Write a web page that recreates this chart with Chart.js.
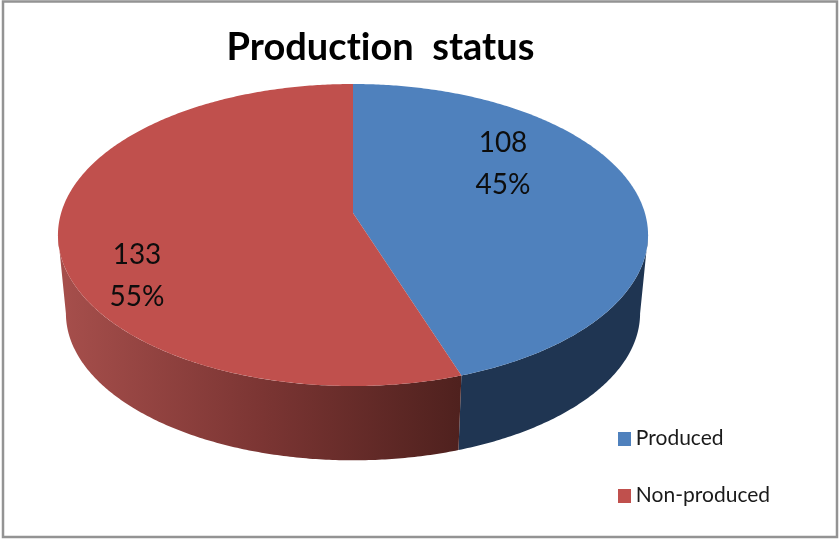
<!DOCTYPE html>
<html><head><meta charset="utf-8">
<script src="https://cdn.jsdelivr.net/npm/chart.js@4"></script>
<style>html,body{margin:0;padding:0;background:#fff}#w{position:relative;width:839px;height:542px}canvas{display:block}</style>
</head><body><div id="w"><canvas id="c" width="839" height="542"></canvas></div>
<script>
const titleText = 'Production  status';
const categories = ['Produced', 'Non-produced'];
const values = [108, 133];
const colors = ['#4f81bd', '#c0504d'];

// Perspective view of the disc: top face and bottom face of the cylinder
const view = { cx: 353, apexY: 213, a: 291.9, b: 147.8, k: 0.1457, depthScale: 0.973, bottomApexY: 292 };
const labelSpots = [{ x: 503, y: 164 }, { x: 137, y: 276 }];

function project(theta, bottom) {
  const u = Math.cos(theta), v = Math.sin(theta), d = 1 - view.k * v;
  const s = bottom ? view.depthScale : 1;
  return { x: view.cx + s * view.a * u / d, y: (bottom ? view.bottomApexY : view.apexY) + s * view.b * v / d };
}
function trace(ctx, from, to, bottom, first) {
  const n = Math.max(2, Math.ceil(Math.abs(to - from) / 0.01));
  for (let i = 0; i <= n; i++) {
    const p = project(from + (to - from) * i / n, bottom);
    if (i === 0 && first) ctx.moveTo(p.x, p.y); else ctx.lineTo(p.x, p.y);
  }
}
function swatch(color) {
  const c = document.createElement('canvas');
  c.width = 13; c.height = 14;
  const g = c.getContext('2d');
  g.fillStyle = color;
  g.fillRect(0, 0, 13, 14);
  return c;
}
const swatches = colors.map(swatch);

const pie3d = {
  id: 'pie3d',
  beforeDraw(chart) {
    const ctx = chart.ctx;
    ctx.save();
    ctx.fillStyle = '#ffffff';
    ctx.fillRect(0, 0, chart.width, chart.height);
    ctx.strokeStyle = '#939393';
    ctx.lineWidth = 2.5;
    ctx.strokeRect(3, 1.5, 834, 535.5);
    ctx.restore();
    ctx.letterSpacing = '0.01px'; // keeps "ti" as two letters
  },
  beforeDatasetDraw(chart) {
    const ctx = chart.ctx;
    const arcs = chart.getDatasetMeta(0).data;
    const tanLimit = Math.asin(view.k);
    ctx.save();
    // side wall
    const boundary = arcs[0].endAngle;
    const grad = ctx.createLinearGradient(66, 0, 460, 0);
    grad.addColorStop(0, '#a54e4b');
    grad.addColorStop(0.5, '#7b3533');
    grad.addColorStop(1, '#4f211e');
    const walls = [[tanLimit, boundary, '#1f3552'], [boundary, Math.PI - tanLimit, grad]];
    walls.forEach(([s, e, fill]) => {
      ctx.beginPath();
      trace(ctx, s, e, false, true);
      trace(ctx, e, s, true, false);
      ctx.closePath();
      ctx.fillStyle = fill;
      ctx.fill();
    });
    // top face, from the library's arc elements
    arcs.forEach((arc, i) => {
      ctx.beginPath();
      ctx.moveTo(view.cx, view.apexY);
      trace(ctx, arc.startAngle, arc.endAngle, false, false);
      ctx.closePath();
      ctx.fillStyle = arc.options.backgroundColor;
      ctx.fill();
    });
    // value labels
    const total = values.reduce((a, b) => a + b, 0);
    ctx.fillStyle = '#0d0d0d';
    ctx.font = '28px Lato';
    ctx.textAlign = 'center';
    ctx.textBaseline = 'middle';
    values.forEach((v, i) => {
      ctx.fillText(String(v), labelSpots[i].x, labelSpots[i].y - 21);
      ctx.fillText(Math.round(v / total * 100) + '%', labelSpots[i].x, labelSpots[i].y + 21);
    });
    ctx.restore();
    return false;
  }
};

new Chart(document.getElementById('c'), {
  type: 'pie',
  data: { labels: categories, datasets: [{ data: values, backgroundColor: colors, borderWidth: 0 }] },
  plugins: [pie3d],
  options: {
    responsive: false,
    animation: false,
    layout: { padding: { left: -19, right: 59, top: 25, bottom: 0 } },
    plugins: {
      tooltip: { enabled: false },
      title: {
        display: true,
        text: titleText,
        color: '#000000',
        font: { family: 'Lato', size: 38, weight: 'bold' },
        padding: { top: 0, bottom: 0 }
      },
      legend: {
        position: 'right',
        align: 'end',
        labels: {
          usePointStyle: true,
          pointStyleWidth: 1,
          boxHeight: 13,
          padding: 36,
          color: '#1a1a1a',
          font: { family: 'Lato', size: 21 },
          generateLabels(chart) {
            const items = Chart.overrides.pie.plugins.legend.labels.generateLabels(chart);
            items.forEach((it, i) => { it.pointStyle = swatches[i]; });
            return items;
          }
        }
      }
    }
  }
});
</script></body></html>
